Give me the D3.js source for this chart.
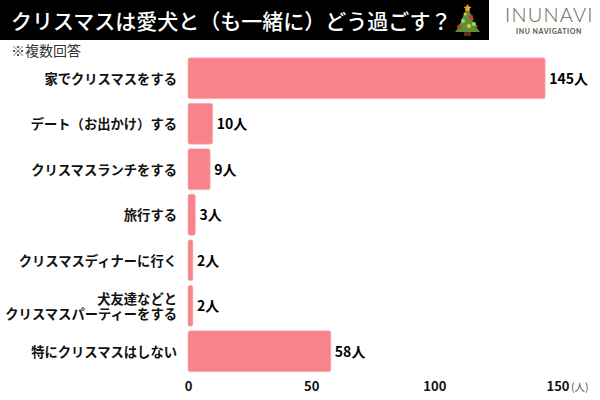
<!DOCTYPE html>
<html><head><meta charset="utf-8">
<script src="https://cdnjs.cloudflare.com/ajax/libs/d3/7.8.5/d3.min.js"></script>
<style>html,body{margin:0;padding:0;background:#fff}svg{display:block}text{font-family:"Noto Sans CJK JP","Noto Sans",sans-serif}</style>
</head><body><svg id="c" width="600" height="400"></svg>
<script>
const categories=[["家でクリスマスをする"],["デート（お出かけ）する"],["クリスマスランチをする"],["旅行する"],["クリスマスディナーに行く"],["犬友達などと","クリスマスパーティーをする"],["特にクリスマスはしない"]];
const values=[145,10,9,3,2,2,58];
const ticks=[0,50,100,150];
const title="クリスマスは愛犬と（も一緒に）どう過ごす？";
const note="※複数回答";
const unit="人";
const svg=d3.select("#c");
const x=d3.scaleLinear().domain([0,150]).range([188,557.5]);
const y=d3.scaleBand().domain(d3.range(values.length)).range([55.5,374]).paddingInner(0.1).paddingOuter(0.05);
svg.append("rect").attr("width",489).attr("height",40).attr("fill","#000");
svg.append("text").attr("x",11).attr("y",29).attr("font-size",21).attr("font-weight",500).attr("fill","#fff").text(title);
// tree
const t=svg.append("g");
t.append("rect").attr("x",464).attr("y",30).attr("width",7).attr("height",6).attr("fill","#5d2f1d");
t.append("path").attr("d","M467.5 8 L474 20 L472 20 L478 27 L476 27 L480 32 L455 32 L459 27 L457 27 L463 20 L461 20Z").attr("fill","#5f8f36");
t.append("path").attr("d","M467.5 4 l1.3 2.6 2.7.3-2 1.9.5 2.7-2.5-1.3-2.5 1.3.5-2.7-2-1.9 2.7-.3z").attr("fill","#f4a52f");
[[471,17,"#d3303a",2.2],[465,14,"#f2c230",1.5],[463,21,"#a6cf72",2],[474,24,"#a6cf72",2],[469,26,"#f2c230",2],[459,27,"#d3303a",2]].forEach(d=>t.append("circle").attr("cx",d[0]).attr("cy",d[1]).attr("r",d[3]).attr("fill",d[2]));
// logo
svg.append("text").attr("x",505).attr("y",22).attr("font-size",20).attr("font-weight",300).attr("fill","#6f6454").attr("letter-spacing",1.2).style("font-family","Lato").text("INUNAVI");
svg.append("text").attr("x",516).attr("y",34).attr("font-size",7).attr("font-weight",900).attr("fill","#6f6454").attr("letter-spacing",0.55).style("font-family","Lato").text("INU NAVIGATION");
svg.append("text").attr("x",11).attr("y",55.5).attr("font-size",14).attr("fill","#333").text(note);
// bars
svg.selectAll("rect.bar").data(values).join("rect").attr("class","bar")
 .attr("x",x(0)).attr("y",(d,i)=>y(i)).attr("width",d=>x(d)-x(0)).attr("height",y.bandwidth())
 .attr("rx",2).attr("fill","#f8838b").attr("stroke","#fbb6ba").attr("stroke-width",0.6);
svg.selectAll("text.val").data(values).join("text").attr("class","val")
 .attr("x",d=>x(d)+4).attr("y",(d,i)=>y(i)+y.bandwidth()/2+5.5).attr("font-size",14).attr("font-weight",700).attr("fill","#000").text(d=>d+unit);
const lab=svg.selectAll("text.cat").data(categories).join("text").attr("class","cat")
 .attr("text-anchor","end").attr("font-size",13.3).attr("font-weight",700).attr("fill","#111");
lab.each(function(d,i){const c=y(i)+y.bandwidth()/2;const s=d3.select(this);
 d.forEach((l,j)=>s.append("tspan").attr("x",177).attr("y",c+5.5+(j-(d.length-1)/2)*15.5).text(l));});
// axis
const ax=svg.append("g").attr("transform","translate(0,379)").call(d3.axisBottom(x).tickValues(ticks).tickSize(0).tickPadding(0).tickFormat(d3.format("d")));
ax.select(".domain").remove();
ax.selectAll("text").attr("font-size",13).attr("font-weight",700).attr("fill","#111").attr("font-family","Noto Sans CJK JP").attr("dy","0.9em");
svg.append("text").attr("x",571).attr("y",391).attr("font-size",10.5).attr("fill","#555").text("(人)");
</script></body></html>
